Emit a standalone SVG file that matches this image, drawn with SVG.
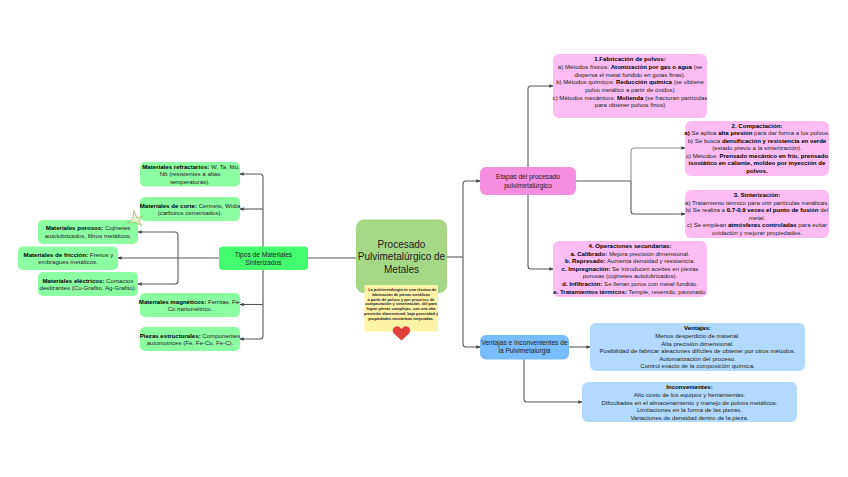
<svg xmlns="http://www.w3.org/2000/svg" width="848" height="477" viewBox="0 0 848 477">
<style>
text{font-family:"Liberation Sans",Arial,sans-serif;text-anchor:middle;fill:#222}
.s{font-size:6.1px}
.m{font-size:6.6px}
.b{font-weight:700;fill:#000}
.c{fill:none;stroke:#5a5a5a;stroke-width:1.100;stroke-linejoin:round}
.t{stroke-width:.7}
.g{fill:#8dfda2}.p{fill:#fdbdf2}.u{fill:#b2d9fe}
</style>
<defs>
<marker id="a" viewBox="0 0 6 6" refX="5.500" refY="3" markerWidth="4" markerHeight="4" markerUnits="userSpaceOnUse" orient="auto"><path d="M0 0.500L6 3L0 5.500z" fill="#444"/></marker>
</defs>
<rect width="848" height="477" fill="#fff"/>
<g id="connectors">
<path class="c" d="M308 258H356"/>
<path class="c" d="M447 257H463"/>
<path class="c" marker-end="url(#a)" d="M463 257V184Q463 181 466 181H480"/>
<path class="c" marker-end="url(#a)" d="M463 257V344Q463 347 466 347H480"/>
<path class="c" marker-end="url(#a)" d="M263 247V177Q263 174 260 174H240"/>
<path class="c" marker-end="url(#a)" d="M263 209H240"/>
<path class="c" marker-end="url(#a)" d="M263 270V336Q263 339 260 339H240"/>
<path class="c" marker-end="url(#a)" d="M263 304.500H240"/>
<path class="c" marker-end="url(#a)" d="M219 258H118"/>
<path class="c" marker-end="url(#a)" d="M178 258V235Q178 232 175 232H138"/>
<path class="c" marker-end="url(#a)" d="M178 258V281Q178 284 175 284H138"/>
<path class="c" marker-end="url(#a)" d="M528 167V89Q528 86 531 86H553"/>
<path class="c" marker-end="url(#a)" d="M528 195V266Q528 269 531 269H553"/>
<path class="c" d="M576 181H631"/>
<path class="c t" marker-end="url(#a)" d="M631 181V151Q631 148 634 148H685"/>
<path class="c" marker-end="url(#a)" d="M631 181V211Q631 214 634 214H685"/>
<path class="c" marker-end="url(#a)" d="M569 347H590"/>
<path class="c" marker-end="url(#a)" d="M524 359V399Q524 402 527 402H582"/>
</g>
<g id="center"><rect x="356" y="219.500" width="91" height="73.500" rx="8" fill="#a6d785"/>
<text x="401.500" y="247.500" font-size="10">Procesado</text><text x="401.500" y="260" font-size="10">Pulvimetalúrgico de</text><text x="401.500" y="272.500" font-size="10">Metales</text></g>
<g id="note"><rect x="364.500" y="285" width="73.500" height="46.500" fill="#fdf3a7"/>
<g font-size="3.900" font-weight="700" style="fill:#222"><text x="401" y="291">· La pulvimetalurgia es una técnica de</text><text x="401" y="295.800">fabricación de piezas metálicas</text><text x="401" y="300.600">a partir de polvos y por procesos de</text><text x="401" y="305.400">compactación y sinterización, útil para</text><text x="401" y="310.200">lograr piezas complejas, con una alta</text><text x="401" y="315">precisión dimensional, baja porosidad y</text><text x="401" y="319.800">propiedades mecánicas mejoradas.</text></g></g>
<g id="heart"><path d="M401.500 340.500L394 333.500Q391.800 330.800 393.500 328Q396.500 324.800 400 327.500L401.500 329L403 327.500Q406.500 324.800 409.500 328Q411.200 330.800 409 333.500Z" fill="#e0413c"/></g>
<g id="tipos"><rect x="219" y="246.500" width="89" height="23.500" rx="4" fill="#44fd6e"/><text class="m" x="263.500" y="256.500">Tipos de Materiales</text><text class="m" x="263.500" y="265">Sinterizados</text></g>
<g id="refractarios"><rect class="g" x="140" y="162" width="100" height="24.500" rx="5"/><text class="s" x="191" y="168.500"><tspan class="b">Materiales refractarios:</tspan> W, Ta, Mo,</text><text class="s" x="190" y="176">Nb (resistentes a altas</text><text class="s" x="190" y="183.500">temperaturas).</text></g>
<g id="corte"><rect class="g" x="140" y="197" width="100" height="24" rx="5"/><text class="s" x="190" y="207.500"><tspan class="b">Materiales de corte:</tspan> Cermets, Widia</text><text class="s" x="190" y="215">(carburos cementados).</text></g>
<g id="porosos"><rect class="g" x="38" y="220" width="100" height="24" rx="5"/><text class="s" x="88" y="230"><tspan class="b">Materiales porosos:</tspan> Cojinetes</text><text class="s" x="88" y="237.500">autolubricados, filtros metálicos.</text></g>
<g id="friccion"><rect class="g" x="18" y="246.500" width="100" height="23.500" rx="5"/><text class="s" x="68.500" y="256.500"><tspan class="b">Materiales de fricción:</tspan> Frenos y</text><text class="s" x="68" y="264">embragues metálicos.</text></g>
<g id="electricos"><rect class="g" x="38" y="272" width="100" height="24" rx="5"/><text class="s" x="88" y="282.500"><tspan class="b">Materiales eléctricos:</tspan> Contactos</text><text class="s" x="88" y="290">deslizantes (Cu-Grafito, Ag-Grafito).</text></g>
<g id="magneticos"><rect class="g" x="140" y="293" width="100" height="24" rx="5"/><text class="s" x="190" y="303.500"><tspan class="b">Materiales magnéticos:</tspan> Ferritas, Fe-</text><text class="s" x="190" y="311">Co nanométrico.</text></g>
<g id="piezas"><rect class="g" x="140" y="327" width="100" height="24" rx="5"/><text class="s" x="190" y="337.500"><tspan class="b">Piezas estructurales:</tspan> Componentes</text><text class="s" x="190" y="345">automotrices (Fe, Fe-Cu, Fe-C).</text></g>
<g id="etapas"><rect x="480" y="167" width="96" height="28" rx="6" fill="#f68ee0"/><text class="m" x="528" y="179">Etapas del procesado</text><text class="m" x="528" y="187.500">pulvimetalúrgico</text></g>
<g id="fabricacion"><rect class="p" x="553" y="54" width="154" height="64" rx="6"/><text class="s" x="630" y="61"><tspan class="b">1.Fabricación de polvos:</tspan></text><text class="s" x="630" y="69"> a) Métodos físicos: <tspan class="b">Atomización por gas o agua</tspan> (se</text><text class="s" x="630" y="76.500">dispersa el metal fundido en gotas finas).</text><text class="s" x="630" y="84">b) Métodos químicos: <tspan class="b">Reducción química</tspan> (se obtiene</text><text class="s" x="630" y="91.500">polvo metálico a partir de óxidos)</text><text class="s" x="630" y="99.500">c) Métodos mecánicos: <tspan class="b">Molienda</tspan> (se fracturan partículas</text><text class="s" x="630" y="107">para obtener polvos finos)</text></g>
<g id="compactacion"><rect class="p" x="685" y="121" width="144" height="55" rx="6"/><text class="s" x="757" y="127.500"><tspan class="b">2. Compactación:</tspan></text><text class="s" x="757" y="135"><tspan class="b">a)</tspan> Se aplica <tspan class="b">alta presión</tspan> para dar forma a los polvos.</text><text class="s" x="757" y="142.500">b) Se busca <tspan class="b">densificación y resistencia en verde</tspan></text><text class="s" x="757" y="150">(estado previo a la sinterización).</text><text class="s" x="757" y="157.500">c) Métodos: <tspan class="b">Prensado mecánico en frío, prensado</tspan></text><text class="s" x="757" y="165"><tspan class="b">isostático en caliente, moldeo por inyección de</tspan></text><text class="s" x="757" y="172.500"><tspan class="b">polvos.</tspan></text></g>
<g id="sinterizacion"><rect class="p" x="685" y="190" width="144" height="48" rx="6"/><text class="s" x="757" y="196.500"><tspan class="b">3. Sinterización:</tspan></text><text class="s" x="757" y="204.500">a) Tratamiento térmico para unir partículas metálicas.</text><text class="s" x="757" y="212">b) Se realiza a <tspan class="b">0.7-0.9 veces el punto de fusión</tspan> del</text><text class="s" x="757" y="219.500">metal.</text><text class="s" x="757" y="227">c) Se emplean <tspan class="b">atmósferas controladas</tspan> para evitar</text><text class="s" x="757" y="234.500">oxidación y mejorar propiedades.</text></g>
<g id="operaciones"><rect class="p" x="553" y="241" width="154" height="56" rx="6"/><text class="s" x="630" y="248"><tspan class="b">4. Operaciones secundarias:</tspan></text><text class="s" x="630" y="255.500"><tspan class="b">a. Calibrado:</tspan> Mejora precisión dimensional.</text><text class="s" x="630" y="263"><tspan class="b">b. Represado:</tspan> Aumenta densidad y resistencia.</text><text class="s" x="630" y="270.500"><tspan class="b">c. Impregnación:</tspan> Se introducen aceites en piezas</text><text class="s" x="630" y="278">porosas (cojinetes autolubricados).</text><text class="s" x="630" y="286"><tspan class="b">d. Infiltración:</tspan> Se llenan poros con metal fundido.</text><text class="s" x="630" y="293.500"><tspan class="b">e. Tratamientos térmicos:</tspan> Temple, revenido, pavonado.</text></g>
<g id="ventajas-nodo"><rect x="480" y="335" width="89" height="24.500" rx="6" fill="#78bdfe"/><text class="m" x="524.500" y="344.500">Ventajas e Inconvenientes de</text><text class="m" x="524.500" y="353">la Pulvimetalurgia</text></g>
<g id="ventajas"><rect class="u" x="590" y="323" width="215" height="48" rx="6"/><text class="s" x="697.500" y="330"><tspan class="b">Ventajas:</tspan></text><text class="s" x="697.500" y="337.500">Menos desperdicio de material.</text><text class="s" x="697.500" y="345.500">Alta precisión dimensional.</text><text class="s" x="697.500" y="353">Posibilidad de fabricar aleaciones difíciles de obtener por otros métodos.</text><text class="s" x="697.500" y="360.500">Automatización del proceso.</text><text class="s" x="697.500" y="368">Control exacto de la composición química.</text></g>
<g id="inconvenientes"><rect class="u" x="582" y="382" width="215" height="40" rx="6"/><text class="s" x="689.500" y="389"><tspan class="b">Inconvenientes:</tspan></text><text class="s" x="689.500" y="396.500">Alto costo de los equipos y herramientas.</text><text class="s" x="689.500" y="404.500">Dificultades en el almacenamiento y manejo de polvos metálicos.</text><text class="s" x="689.500" y="412">Limitaciones en la forma de las piezas.</text><text class="s" x="689.500" y="419.500">Variaciones de densidad dentro de la pieza.</text></g>
<g id="star"><path d="M134 210.500L137 218L143 216L138.500 221L142 226L135.500 222.500L127 223L133 219Z" fill="#e9f3c4" fill-opacity=".7" stroke="#a5c97c" stroke-width="1"/></g>
</svg>
